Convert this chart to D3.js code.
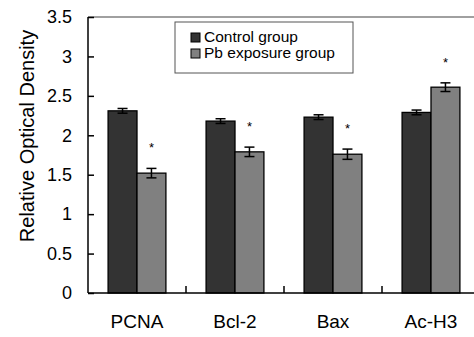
<!DOCTYPE html>
<html>
<head>
<meta charset="utf-8">
<script src="https://cdn.jsdelivr.net/npm/d3@7"></script>
<style>
  body { margin: 0; background: #fff; }
  svg { display: block; font-family: "Liberation Sans", Arial, sans-serif; }
</style>
</head>
<body>
<svg id="chart" width="474" height="337"></svg>
<script>
const categories = [ 'PCNA', 'Bcl-2', 'Bax', 'Ac-H3' ];
const seriesNames = [ 'Control group', 'Pb exposure group' ];
const controlValues = [ 2.31, 2.18, 2.23, 2.29 ];
const controlErrors = [ 0.03, 0.03, 0.03, 0.03 ];
const pbValues = [ 1.52, 1.79, 1.76, 2.61 ];
const pbErrors = [ 0.06, 0.06, 0.065, 0.055 ];
const significant = [ true, true, true, true ];
const yTicks = [ 0, 0.5, 1, 1.5, 2, 2.5, 3, 3.5 ];

const colors = [ '#333333', '#808080' ];

const svg = d3.select( '#chart' ),
    margin = { top: 17, left: 88, bottom: 44 },
    plotW = 392,
    plotH = 337 - margin.top - margin.bottom;

const g = svg.append( 'g' ).attr( 'transform', 'translate(' + margin.left + ',' + margin.top + ')' );

const x = d3.scaleBand().domain( categories ).range( [ 0, plotW ] ).paddingInner( 0.41 ).paddingOuter( 0.205 );
const xs = d3.scaleBand().domain( [ 0, 1 ] ).range( [ 0, x.bandwidth() ] );
const y = d3.scaleLinear().domain( [ 0, 3.5 ] ).range( [ plotH, 0 ] );

// top frame line
g.append( 'line' )
    .attr( 'x1', 0 ).attr( 'x2', plotW ).attr( 'y1', 0 ).attr( 'y2', 0 )
    .attr( 'stroke', '#808080' ).attr( 'stroke-width', 1.5 );

const rows = categories.map( ( c, i ) => [
    { cat: c, s: 0, v: controlValues[ i ], e: controlErrors[ i ] },
    { cat: c, s: 1, v: pbValues[ i ], e: pbErrors[ i ] }
] );

const grp = g.selectAll( '.grp' ).data( rows ).enter().append( 'g' )
    .attr( 'transform', ( d, i ) => 'translate(' + x( categories[ i ] ) + ',0)' );

grp.selectAll( 'rect' ).data( d => d ).enter().append( 'rect' )
    .attr( 'x', d => xs( d.s ) )
    .attr( 'y', d => y( d.v ) )
    .attr( 'width', xs.bandwidth() )
    .attr( 'height', d => y( 0 ) - y( d.v ) )
    .attr( 'fill', d => colors[ d.s ] )
    .attr( 'stroke', '#000' ).attr( 'stroke-width', 1.3 );

// error bars
const eb = grp.selectAll( '.err' ).data( d => d ).enter().append( 'g' )
    .attr( 'stroke', '#000' ).attr( 'stroke-width', 1.5 );
const cx = d => xs( d.s ) + xs.bandwidth() / 2;
eb.append( 'line' )
    .attr( 'x1', cx ).attr( 'x2', cx )
    .attr( 'y1', d => y( d.v + d.e ) ).attr( 'y2', d => y( d.v - d.e ) );
eb.append( 'line' )
    .attr( 'x1', d => cx( d ) - 5 ).attr( 'x2', d => cx( d ) + 5 )
    .attr( 'y1', d => y( d.v + d.e ) ).attr( 'y2', d => y( d.v + d.e ) );
eb.append( 'line' )
    .attr( 'x1', d => cx( d ) - 5 ).attr( 'x2', d => cx( d ) + 5 )
    .attr( 'y1', d => y( d.v - d.e ) ).attr( 'y2', d => y( d.v - d.e ) );

// asterisks
grp.append( 'text' )
    .filter( ( d, i ) => significant[ i ] )
    .attr( 'x', d => cx( d[ 1 ] ) )
    .attr( 'y', d => y( d[ 1 ].v + d[ 1 ].e ) - 16 )
    .attr( 'text-anchor', 'middle' )
    .attr( 'font-size', 13 )
    .text( '*' );

// y axis
const yAxis = g.append( 'g' )
    .call( d3.axisRight( y ).tickValues( yTicks ).tickSize( 6 ).tickFormat( '' ) );
yAxis.select( '.domain' ).attr( 'd', 'M0,0V' + plotH ).attr( 'stroke-width', 1.5 );
yAxis.selectAll( '.tick line' ).attr( 'stroke-width', 1.5 );

g.selectAll( '.ylab' ).data( yTicks ).enter().append( 'text' )
    .attr( 'x', -16 )
    .attr( 'y', d => y( d ) )
    .attr( 'dy', '0.35em' )
    .attr( 'text-anchor', 'end' )
    .attr( 'font-size', 18 )
    .text( d => d );

// x axis
const xAxis = g.append( 'g' ).attr( 'transform', 'translate(0,' + plotH + ')' );
xAxis.append( 'line' ).attr( 'x1', 0 ).attr( 'x2', plotW ).attr( 'stroke', '#000' ).attr( 'stroke-width', 1.5 );
xAxis.selectAll( '.xt' ).data( categories.slice( 1 ) ).enter().append( 'line' )
    .attr( 'x1', d => x( d ) - x.step() * x.paddingInner() / 2 )
    .attr( 'x2', d => x( d ) - x.step() * x.paddingInner() / 2 )
    .attr( 'y1', 0 ).attr( 'y2', -7 )
    .attr( 'stroke', '#000' ).attr( 'stroke-width', 1.5 );
xAxis.selectAll( '.xl' ).data( categories ).enter().append( 'text' )
    .attr( 'x', d => x( d ) + x.bandwidth() / 2 )
    .attr( 'y', 35 )
    .attr( 'text-anchor', 'middle' )
    .attr( 'font-size', 19 )
    .text( d => d );

// axis title
svg.append( 'text' )
    .attr( 'transform', 'translate(34,136) rotate(-90)' )
    .attr( 'text-anchor', 'middle' )
    .attr( 'font-size', 20 )
    .text( 'Relative Optical Density' );

// legend
const lg = svg.append( 'g' ).attr( 'transform', 'translate(175,22)' );
lg.append( 'rect' ).attr( 'width', 178 ).attr( 'height', 51 )
    .attr( 'fill', '#fff' ).attr( 'stroke', '#555' ).attr( 'stroke-width', 1 );
seriesNames.forEach( ( n, i ) => {
    lg.append( 'rect' )
        .attr( 'x', 16 ).attr( 'y', 11 + i * 16 )
        .attr( 'width', 9 ).attr( 'height', 9 )
        .attr( 'fill', colors[ i ] ).attr( 'stroke', '#000' ).attr( 'stroke-width', 1 );
    lg.append( 'text' )
        .attr( 'x', 29 ).attr( 'y', 20 + i * 16 )
        .attr( 'font-size', 15.5 )
        .text( n );
} );
</script>
</body>
</html>
